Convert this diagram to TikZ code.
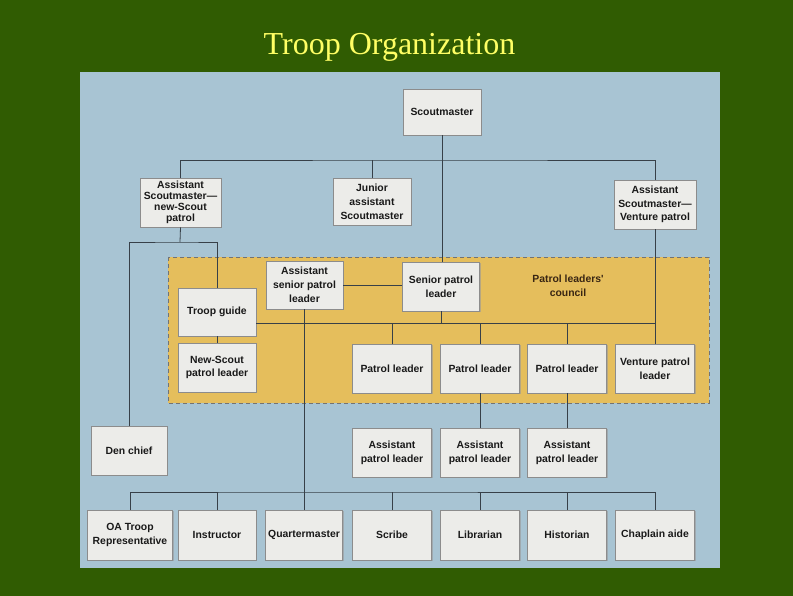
\documentclass[tikz,border=0pt]{standalone}
\usepackage{fontspec}
\setmainfont{Liberation Serif}
\newfontfamily\boxfont{Liberation Sans}
\usetikzlibrary{shadows}
\definecolor{bggreen}{RGB}{48,92,2}
\definecolor{panelblue}{RGB}{168,196,211}
\definecolor{councilyellow}{RGB}{229,190,92}
\definecolor{boxgray}{RGB}{236,236,233}
\definecolor{titleyellow}{RGB}{255,255,100}
\definecolor{linecol}{RGB}{55,64,72}
\tikzset{
  box/.style={draw=black!45, line width=0.6pt, fill=boxgray, align=center, inner sep=0pt,
    minimum width=79pt, minimum height=49pt, text=black!90,
    font=\boxfont\bfseries\fontsize{10.4}{13.8}\selectfont,
    drop shadow={shadow xshift=1.2pt, shadow yshift=-1.2pt, fill=black!40, opacity=0.6}},
  tight/.style={font=\boxfont\bfseries\fontsize{10.4}{11}\selectfont},
  conn/.style={draw=linecol, line width=0.8pt},
  council/.style={fill=councilyellow, draw=black!55, line width=0.8pt, dash pattern=on 4pt off 3pt}
}
\begin{document}
\begin{tikzpicture}[x=1pt,y=-1pt]
\useasboundingbox (0,0) rectangle (793,596);
\fill[bggreen] (0,0) rectangle (793,596);
\node[font=\fontsize{32}{36}\selectfont, text=titleyellow] (title) at (389.5,47) {Troop Organization};
\fill[panelblue] (80,72) rectangle (720,568);
\draw[council] (168,257) rectangle (709,403);
\node[font=\boxfont\bfseries\fontsize{10.4}{13.8}\selectfont, align=center, text=black!70!brown] (plc) at (568,286) {Patrol leaders'\\council};

% coordinates for buses
\coordinate (b1) at (442,160);
\coordinate (b2) at (180,242);
\coordinate (b3) at (441,323);
\coordinate (b4) at (304,492);

% boxes
\node[box, minimum width=78pt, minimum height=46pt] (sm) at (442,112) {Scoutmaster};
\node[box, tight, minimum width=81pt] (asn) at (180.5,202.5) {Assistant\\Scoutmaster—\\new-Scout\\patrol};
\node[box, minimum width=78pt, minimum height=47pt] (jas) at (372,201.5) {Junior\\assistant\\Scoutmaster};
\node[box, minimum width=82pt] (asv) at (655,204.5) {Assistant\\Scoutmaster—\\Venture patrol};
\node[box, minimum width=77pt, minimum height=48pt] (aspl) at (304.5,285) {Assistant\\senior patrol\\leader};
\node[box, minimum width=77pt] (spl) at (441,286.5) {Senior patrol\\leader};
\node[box, minimum width=78pt, minimum height=48pt] (tg) at (217,312) {Troop guide};
\node[box, minimum width=78pt] (nsp) at (217,367.5) {New-Scout\\patrol leader};
\node[box] (pl1) at (392,368.5) {Patrol leader};
\node[box] (pl2) at (480,368.5) {Patrol leader};
\node[box] (pl3) at (567,368.5) {Patrol leader};
\node[box] (vpl) at (655,368.5) {Venture patrol\\leader};
\node[box, minimum width=76pt] (den) at (129,450.5) {Den chief};
\node[box] (apl1) at (392,452.5) {Assistant\\patrol leader};
\node[box] (apl2) at (480,452.5) {Assistant\\patrol leader};
\node[box] (apl3) at (567,452.5) {Assistant\\patrol leader};
\node[box, minimum width=85pt, minimum height=50pt] (oa) at (130,535) {OA Troop\\Representative};
\node[box, minimum width=78pt, minimum height=50pt] (ins) at (217,535) {Instructor};
\node[box, minimum width=77pt, minimum height=50pt] (qm) at (304,535) {Quartermaster};
\node[box, minimum height=50pt] (scr) at (392,535) {Scribe};
\node[box, minimum height=50pt] (lib) at (480,535) {Librarian};
\node[box, minimum height=50pt] (his) at (567,535) {Historian};
\node[box, minimum height=50pt] (cha) at (655,535) {Chaplain aide};

% connectors
\draw[conn] (sm.south) -- (sm.south |- spl.north);
\draw[conn] (asn.north) |- (b1) -| (asv.north);
\draw[conn] (jas.north) -- (jas.north |- b1);
\draw[conn] (asn.south) -- (b2);
\draw[conn] (den.north) |- (b2) -| (tg.north);
\draw[conn] (tg.south) -- (nsp.north);
\draw[conn] (aspl.east) -- (aspl.east -| spl.west);
\draw[conn] (spl.south) -- (b3);
\draw[conn] (tg.east |- b3) -- (asv.south |- b3);
\draw[conn] (asv.south) -- (vpl.north);
\draw[conn] (pl1.north) -- (pl1.north |- b3);
\draw[conn] (pl2.north) -- (pl2.north |- b3);
\draw[conn] (pl3.north) -- (pl3.north |- b3);
\draw[conn] (aspl.south) -- (aspl.south |- qm.north);
\draw[conn] (pl2.south) -- (apl2.north);
\draw[conn] (pl3.south) -- (apl3.north);
\draw[conn] (oa.north) |- (b4) -| (cha.north);
\draw[conn] (ins.north) -- (ins.north |- b4);
\draw[conn] (scr.north) -- (scr.north |- b4);
\draw[conn] (lib.north) -- (lib.north |- b4);
\draw[conn] (his.north) -- (his.north |- b4);
\end{tikzpicture}
\end{document}
